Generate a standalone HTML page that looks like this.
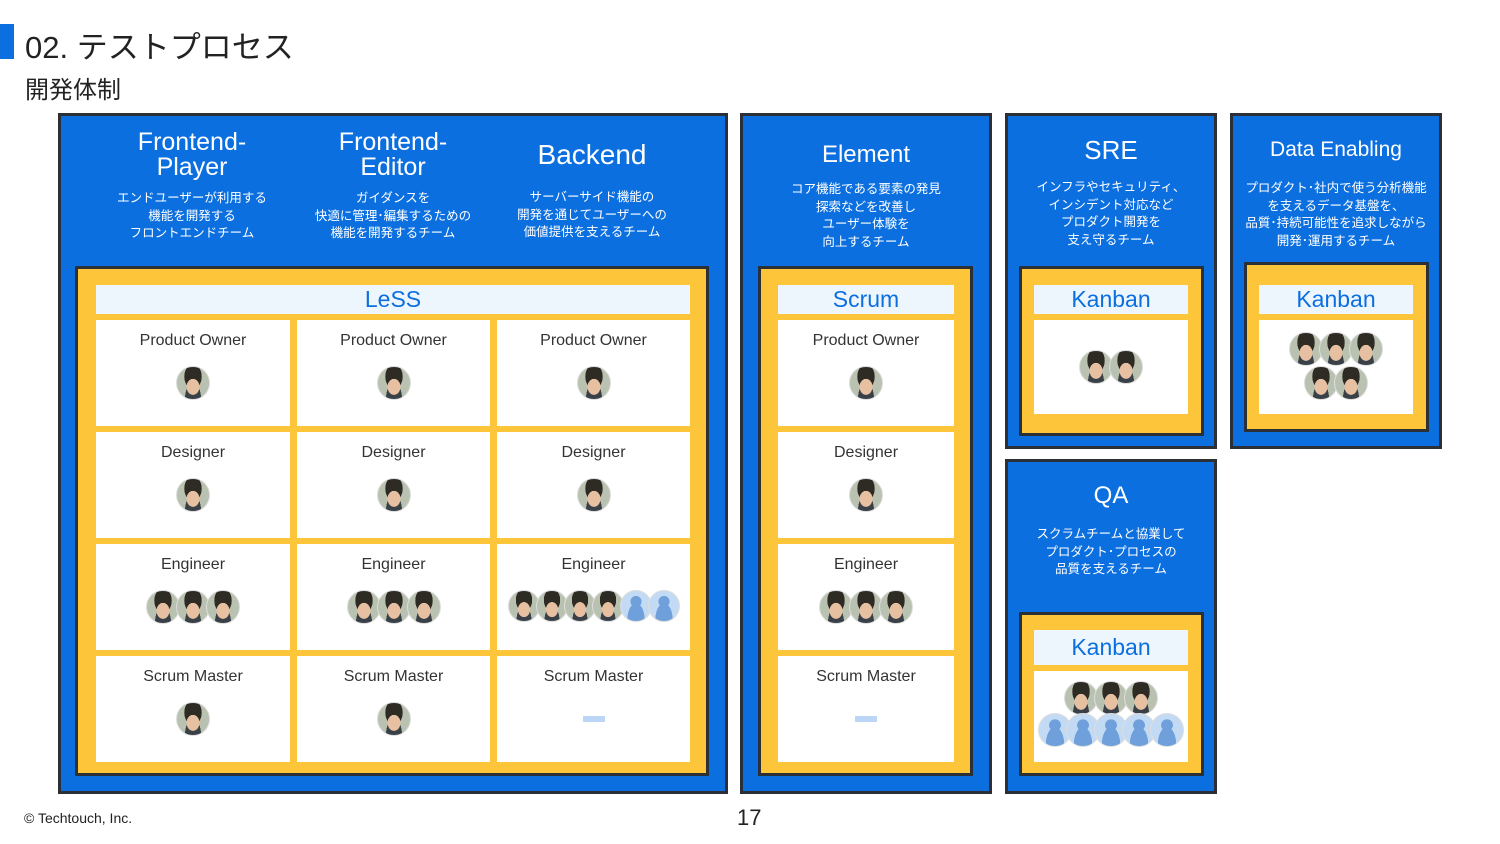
<!DOCTYPE html>
<html><head><meta charset="utf-8"><style>
*{margin:0;padding:0;box-sizing:border-box}
body{width:1500px;height:844px;background:#fff;position:relative;overflow:hidden;font-family:"Liberation Sans","Noto Sans CJK JP",sans-serif;color:#222}
.a{position:absolute}
.blue{background:#0b6fe0;border:3px solid #2b2f36}
.yel{background:#fdc63a;border:3px solid #2b2f36}
.hd{background:#eef6fd;color:#0b6fe0;font-size:23px;text-align:center;line-height:29px}
.cell{background:#fff;text-align:center;font-size:16px;color:#333;padding-top:12px}
.t{color:#fff;text-align:center}
.tt{font-size:25px;line-height:25px}
.ds{font-size:12.5px;line-height:17.5px}
.av{display:inline-block;width:34px;height:34px;border-radius:50%;margin:0 -2px;background:radial-gradient(ellipse at 50% 62%,#e6c0a0 0 28%,transparent 29%),radial-gradient(ellipse at 50% 30%,#2e2a24 0 38%,transparent 39%),radial-gradient(ellipse at 50% 100%,#3a4048 0 35%,transparent 36%),#b9c2b0;border:1px solid #ddd;vertical-align:top}
.av.g{background:radial-gradient(circle at 50% 35%,#6fa0dc 0 22%,transparent 23%),radial-gradient(ellipse at 50% 95%,#6fa0dc 0 40%,transparent 41%),#c3daf4}
.avs{margin-top:16px;height:36px}
.dash{display:inline-block;width:22px;height:6px;background:#bcd7f5;margin-top:30px}
</style></head><body>
<div class="a" style="left:0;top:24px;width:14px;height:35px;background:#0b6fe0"></div>
<div class="a" style="left:25px;top:22px;font-size:31px;color:#222">02. テストプロセス</div>
<div class="a" style="left:25px;top:70px;font-size:24px;color:#222">開発体制</div>

<div class="a blue" style="left:58px;top:113px;width:670px;height:681px"></div>
<div class="a t" style="left:92px;top:130px;width:200px"><div class="tt">Frontend-<br>Player</div><div class="ds" style="margin-top:10px">エンドユーザーが利用する<br>機能を開発する<br>フロントエンドチーム</div></div>
<div class="a t" style="left:293px;top:130px;width:200px"><div class="tt">Frontend-<br>Editor</div><div class="ds" style="margin-top:10px">ガイダンスを<br>快適に管理･編集するための<br>機能を開発するチーム</div></div>
<div class="a t" style="left:492px;top:142px;width:200px"><div class="tt" style="font-size:28px">Backend</div><div class="ds" style="margin-top:22px">サーバーサイド機能の<br>開発を通じてユーザーへの<br>価値提供を支えるチーム</div></div>
<div class="a yel" style="left:75px;top:266px;width:634px;height:510px"></div>
<div class="a hd" style="left:96px;top:285px;width:594px;height:29px">LeSS</div>

<div class="a cell" style="left:96px;top:320px;width:194px;height:106px">Product Owner<div class="avs"><span class="av"></span></div></div>
<div class="a cell" style="left:297px;top:320px;width:193px;height:106px">Product Owner<div class="avs"><span class="av"></span></div></div>
<div class="a cell" style="left:497px;top:320px;width:193px;height:106px">Product Owner<div class="avs"><span class="av"></span></div></div>
<div class="a cell" style="left:96px;top:432px;width:194px;height:106px">Designer<div class="avs"><span class="av"></span></div></div>
<div class="a cell" style="left:297px;top:432px;width:193px;height:106px">Designer<div class="avs"><span class="av"></span></div></div>
<div class="a cell" style="left:497px;top:432px;width:193px;height:106px">Designer<div class="avs"><span class="av"></span></div></div>
<div class="a cell" style="left:96px;top:544px;width:194px;height:106px">Engineer<div class="avs"><span class="av"></span><span class="av"></span><span class="av"></span></div></div>
<div class="a cell" style="left:297px;top:544px;width:193px;height:106px">Engineer<div class="avs"><span class="av"></span><span class="av"></span><span class="av"></span></div></div>
<div class="a cell" style="left:497px;top:544px;width:193px;height:106px">Engineer<div class="avs"><span class="av" style="width:32px;height:32px"></span><span class="av" style="width:32px;height:32px"></span><span class="av" style="width:32px;height:32px"></span><span class="av" style="width:32px;height:32px"></span><span class="av g" style="width:32px;height:32px"></span><span class="av g" style="width:32px;height:32px"></span></div></div>
<div class="a cell" style="left:96px;top:656px;width:194px;height:106px">Scrum Master<div class="avs"><span class="av"></span></div></div>
<div class="a cell" style="left:297px;top:656px;width:193px;height:106px">Scrum Master<div class="avs"><span class="av"></span></div></div>
<div class="a cell" style="left:497px;top:656px;width:193px;height:106px">Scrum Master<div><span class="dash"></span></div></div>

<div class="a blue" style="left:740px;top:113px;width:252px;height:681px"></div>
<div class="a t" style="left:740px;top:142px;width:252px"><div class="tt" style="font-size:24px">Element</div><div class="ds" style="margin-top:14px">コア機能である要素の発見<br>探索などを改善し<br>ユーザー体験を<br>向上するチーム</div></div>
<div class="a yel" style="left:758px;top:266px;width:215px;height:510px"></div>
<div class="a hd" style="left:778px;top:285px;width:176px;height:29px">Scrum</div>
<div class="a cell" style="left:778px;top:320px;width:176px;height:106px">Product Owner<div class="avs"><span class="av"></span></div></div>
<div class="a cell" style="left:778px;top:432px;width:176px;height:106px">Designer<div class="avs"><span class="av"></span></div></div>
<div class="a cell" style="left:778px;top:544px;width:176px;height:106px">Engineer<div class="avs"><span class="av"></span><span class="av"></span><span class="av"></span></div></div>
<div class="a cell" style="left:778px;top:656px;width:176px;height:106px">Scrum Master<div><span class="dash"></span></div></div>

<div class="a blue" style="left:1005px;top:113px;width:212px;height:336px"></div>
<div class="a t" style="left:1005px;top:138px;width:212px"><div class="tt" style="font-size:26px">SRE</div><div class="ds" style="margin-top:16px">インフラやセキュリティ、<br>インシデント対応など<br>プロダクト開発を<br>支え守るチーム</div></div>
<div class="a yel" style="left:1019px;top:266px;width:185px;height:170px"></div>
<div class="a hd" style="left:1034px;top:285px;width:154px;height:29px">Kanban</div>
<div class="a cell" style="left:1034px;top:320px;width:154px;height:94px;padding-top:30px"><span class="av"></span><span class="av"></span></div>

<div class="a blue" style="left:1230px;top:113px;width:212px;height:336px"></div>
<div class="a t" style="left:1230px;top:137px;width:212px"><div class="tt" style="font-size:21px">Data Enabling</div><div class="ds" style="margin-top:18px">プロダクト･社内で使う分析機能<br>を支えるデータ基盤を、<br>品質･持続可能性を追求しながら<br>開発･運用するチーム</div></div>
<div class="a yel" style="left:1244px;top:262px;width:185px;height:170px"></div>
<div class="a hd" style="left:1259px;top:285px;width:154px;height:29px">Kanban</div>
<div class="a cell" style="left:1259px;top:320px;width:154px;height:94px;padding-top:12px;line-height:0"><span class="av"></span><span class="av"></span><span class="av"></span><br><span class="av"></span><span class="av"></span></div>

<div class="a blue" style="left:1005px;top:459px;width:212px;height:335px"></div>
<div class="a t" style="left:1005px;top:483px;width:212px"><div class="tt" style="font-size:24px">QA</div><div class="ds" style="margin-top:18px">スクラムチームと協業して<br>プロダクト･プロセスの<br>品質を支えるチーム</div></div>
<div class="a yel" style="left:1019px;top:612px;width:185px;height:164px"></div>
<div class="a hd" style="left:1034px;top:630px;width:154px;height:35px;line-height:35px">Kanban</div>
<div class="a cell" style="left:1034px;top:671px;width:154px;height:91px;padding-top:10px;line-height:0"><span class="av"></span><span class="av"></span><span class="av"></span><br><span class="av g" style="margin:-2px -3px 0"></span><span class="av g" style="margin:-2px -3px 0"></span><span class="av g" style="margin:-2px -3px 0"></span><span class="av g" style="margin:-2px -3px 0"></span><span class="av g" style="margin:-2px -3px 0"></span></div>

<div class="a" style="left:24px;top:810px;font-size:14px;color:#222">© Techtouch, Inc.</div>
<div class="a" style="left:737px;top:805px;font-size:22px;color:#222">17</div>
</body></html>
